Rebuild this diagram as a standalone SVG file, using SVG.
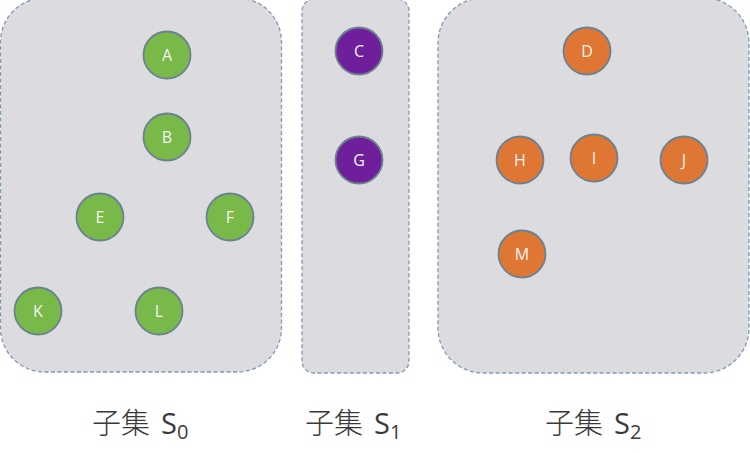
<svg xmlns="http://www.w3.org/2000/svg" width="750" height="453" viewBox="0 0 750 453">
<style>
.box{fill:#dcdbdf;stroke:#7f9bb3;stroke-width:1.3;stroke-dasharray:4 2.5}
.n circle{stroke:#6b8290;stroke-width:1.8}
.g circle{fill:#78b94a}
.p circle{fill:#6f1f9c}
.o circle{fill:#e07634}
.n text{font-family:"Open Sans","Liberation Sans",sans-serif;font-size:16px;fill:#f3f3ee;text-anchor:middle}
.lbl{font-family:"Noto Sans CJK SC","Liberation Sans",sans-serif;font-size:29px;fill:#3a3a3a;font-weight:300}
.sub{font-family:"Open Sans","Liberation Sans",sans-serif;font-weight:400}
</style>
<g id="subsets">
<rect id="box-s0" class="box" x="0.5" y="-2" width="281" height="374" rx="44"/>
<rect id="box-s1" class="box" x="302" y="-1" width="107" height="374" rx="12"/>
<rect id="box-s2" class="box" x="438" y="-2" width="311" height="375" rx="45"/>
</g>
<g id="connectors"></g>
<g id="node-A" class="n g"><circle cx="167" cy="55" r="23.5"/><text x="167" y="61">A</text></g>
<g id="node-B" class="n g"><circle cx="167" cy="137" r="23.5"/><text x="167" y="143">B</text></g>
<g id="node-E" class="n g"><circle cx="100" cy="217" r="23.5"/><text x="100" y="223">E</text></g>
<g id="node-F" class="n g"><circle cx="230" cy="217" r="23.5"/><text x="230" y="223">F</text></g>
<g id="node-K" class="n g"><circle cx="38" cy="311" r="23.5"/><text x="38" y="317">K</text></g>
<g id="node-L" class="n g"><circle cx="159" cy="311" r="23.5"/><text x="159" y="317">L</text></g>
<g id="node-C" class="n p"><circle cx="359" cy="51" r="23.5"/><text x="359" y="57">C</text></g>
<g id="node-G" class="n p"><circle cx="359" cy="160" r="23.5"/><text x="359" y="166">G</text></g>
<g id="node-D" class="n o"><circle cx="587" cy="51" r="23.5"/><text x="587" y="57">D</text></g>
<g id="node-H" class="n o"><circle cx="520" cy="160" r="23.5"/><text x="520" y="166">H</text></g>
<g id="node-I" class="n o"><circle cx="594" cy="158" r="23.5"/><text x="594" y="164">I</text></g>
<g id="node-J" class="n o"><circle cx="684" cy="160" r="23.5"/><text x="684" y="166">J</text></g>
<g id="node-M" class="n o"><circle cx="522" cy="254" r="23.5"/><text x="522" y="260">M</text></g>
<g id="labels">
<text class="lbl" x="92" y="434">子集<tspan class="sub" x="161">S</tspan><tspan class="sub" font-size="20" dy="5">0</tspan></text>
<text class="lbl" x="305" y="434">子集<tspan class="sub" x="374">S</tspan><tspan class="sub" font-size="20" dy="5">1</tspan></text>
<text class="lbl" x="545" y="434">子集<tspan class="sub" x="614">S</tspan><tspan class="sub" font-size="20" dy="5">2</tspan></text>
</g>
</svg>
